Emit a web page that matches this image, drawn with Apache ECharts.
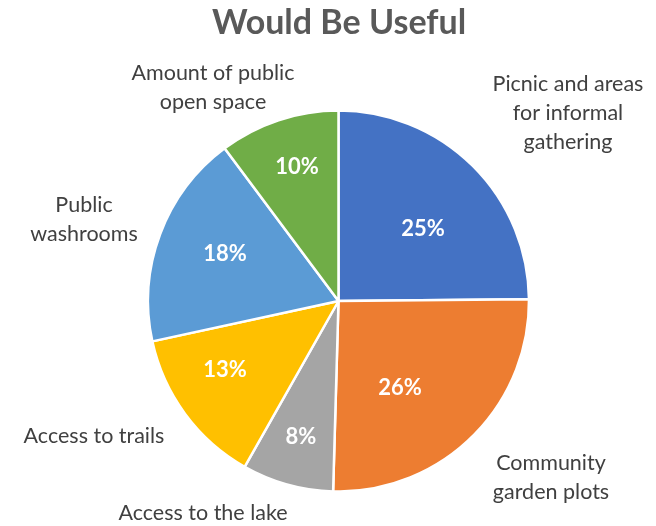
<!DOCTYPE html>
<html><head><meta charset="utf-8">
<script src="https://cdn.jsdelivr.net/npm/echarts@6/dist/echarts.min.js"></script>
<style>html,body{margin:0;padding:0;background:#fff}#c{width:656px;height:526px}</style>
</head><body><div id="c"></div>
<script>
// Data (shares in %)
const categories = ['Picnic and areas\nfor informal\ngathering', 'Community\ngarden plots', 'Access to the lake', 'Access to trails', 'Public\nwashrooms', 'Amount of public\nopen space'];
const values = [24.85, 25.6, 7.75, 13.4, 18.2, 10.2];

// Styling / layout
const colors = ['#4472C4', '#ED7D31', '#A5A5A5', '#FFC000', '#5B9BD5', '#70AD47'];
const nameLabelPos = [[568, 113], [551, 478], [203, 513], [94, 436], [84, 220], [213, 88]];
const pctLabelPos = [[423, 229], [400, 388], [301, 437], [225, 370], [225, 254], [297, 167]];
const FONT = 'Lato';

const chart = echarts.init(document.getElementById('c'), null, {renderer: 'canvas'});
const data = categories.map((n, i) => ({name: n, value: values[i], itemStyle: {color: colors[i]}}));

chart.setOption({
  animation: false,
  title: {
    text: 'Would Be Useful', left: 207, top: 1,
    textStyle: {fontFamily: FONT, fontSize: 34, fontWeight: 'bold', color: '#595959'}
  },
  series: [
    {
      type: 'pie', center: [338.5, 301], radius: 190.5, startAngle: 90, clockwise: true,
      avoidLabelOverlap: false, silent: true,
      itemStyle: {borderColor: '#fff', borderWidth: 2.5},
      label: {show: true, position: 'outside', formatter: '{b}', fontFamily: FONT, fontSize: 21.5, lineHeight: 29, color: '#404040'},
      labelLine: {show: false},
      labelLayout: p => ({x: nameLabelPos[p.dataIndex][0], y: nameLabelPos[p.dataIndex][1], align: 'center', verticalAlign: 'middle'}),
      data: data
    },
    {
      type: 'pie', center: [338.5, 301], radius: 190.5, startAngle: 90, clockwise: true,
      avoidLabelOverlap: false, silent: true,
      itemStyle: {color: 'rgba(0,0,0,0)', borderWidth: 0},
      label: {show: true, position: 'inside', formatter: p => Math.round(p.percent) + '%', fontFamily: FONT, fontSize: 22, fontWeight: 'bold', color: '#fff'},
      labelLine: {show: false},
      labelLayout: p => ({x: pctLabelPos[p.dataIndex][0], y: pctLabelPos[p.dataIndex][1], align: 'center', verticalAlign: 'middle'}),
      data: values.map((v, i) => ({name: categories[i], value: v}))
    }
  ]
});
</script>
</body></html>
